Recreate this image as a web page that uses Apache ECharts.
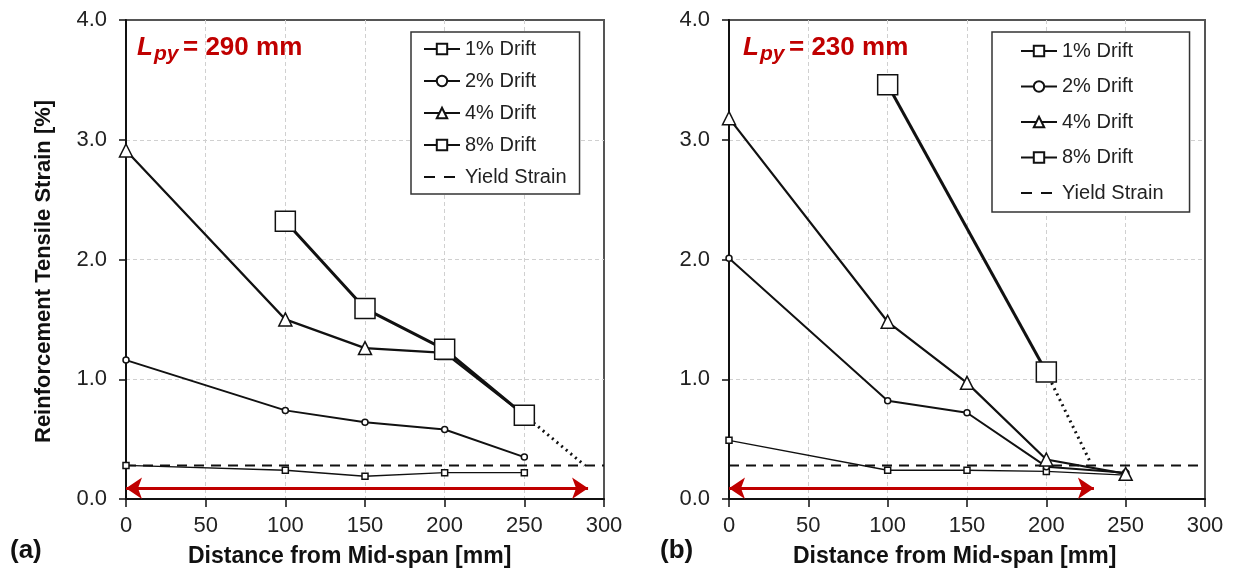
<!DOCTYPE html>
<html>
<head>
<meta charset="utf-8">
<script src="https://cdn.jsdelivr.net/npm/echarts@6/dist/echarts.min.js"></script>
<style>
  html, body { margin: 0; padding: 0; background: #fff; }
  #chart { width: 1234px; height: 574px; }
</style>
</head>
<body>
<div id="chart"></div>
<script>
const FONT = '"Liberation Sans", Arial, sans-serif'

// distances from mid-span [mm]
const distance = [0, 100, 150, 200, 250]

// (a) Lpy = 290 mm, strain [%]
const a1 = [0.28, 0.24, 0.19, 0.22, 0.22]
const a2 = [1.16, 0.74, 0.64, 0.58, 0.35]
const a4 = [2.91, 1.50, 1.26, 1.22, 0.70]
const a8 = [null, 2.32, 1.59, 1.25, 0.70]
const aExtrap = [[250, 0.70], [288, 0.28]]
const aArrow = [[0, 0.09], [290, 0.09]]

// (b) Lpy = 230 mm
const b1 = [0.49, 0.24, 0.24, 0.23, 0.20]
const b2 = [2.01, 0.82, 0.72, 0.27, 0.22]
const b4 = [3.18, 1.48, 0.97, 0.33, 0.21]
const b8 = [null, 3.46, null, 1.06, null]
const bExtrap = [[200, 1.06], [228, 0.30]]
const bArrow = [[0, 0.09], [230, 0.09]]

const yieldStrain = 0.28
const yieldSpan = [0, 300]

const legendNames = ['1% Drift', '2% Drift', '4% Drift', '8% Drift', 'Yield Strain']

function pairs(vals) {
  return distance.map((d, i) => [d, vals[i]]).filter(p => p[1] != null)
}

const driftStyles = {
  '1% Drift': { symbol: 'rect', size: 6, width: 1.3 },
  '2% Drift': { symbol: 'circle', size: 6, width: 2 },
  '4% Drift': { symbol: 'triangle', size: 13, width: 2.2 },
  '8% Drift': { symbol: 'rect', size: 20, width: 3 },
}

function driftSeries(name, vals, idx) {
  const s = driftStyles[name]
  return {
    name,
    type: 'line',
    xAxisIndex: idx, yAxisIndex: idx,
    data: pairs(vals),
    symbol: s.symbol,
    symbolSize: s.size,
    showAllSymbol: true,
    lineStyle: { color: '#111', width: s.width },
    itemStyle: { color: '#fff', borderColor: '#111', borderWidth: 1.5 },
    z: 3,
  }
}

function panelSeries(idx, d1, d2, d4, d8, extrap, arrow) {
  return [
    {
      name: 'Yield Strain',
      type: 'line',
      xAxisIndex: idx, yAxisIndex: idx,
      data: yieldSpan.map(x => [x, yieldStrain]),
      symbol: 'none',
      lineStyle: { color: '#111', width: 2, type: [10, 7] },
      itemStyle: { color: 'rgba(0,0,0,0)', borderWidth: 0 },
      z: 2,
    },
    {
      name: 'extrap' + idx,
      type: 'line',
      xAxisIndex: idx, yAxisIndex: idx,
      data: extrap,
      symbol: 'none',
      lineStyle: { color: '#111', width: 3, type: [2, 4] },
      z: 2,
    },
    {
      name: 'arrow' + idx,
      type: 'line',
      xAxisIndex: idx, yAxisIndex: idx,
      data: [],
      markLine: {
        silent: true,
        symbol: ['arrow', 'arrow'],
        symbolSize: [16, 16],
        label: { show: false },
        lineStyle: { color: '#c00000', width: 3, type: 'solid' },
        data: [[{ coord: arrow[0] }, { coord: arrow[1] }]],
      },
    },
    driftSeries('1% Drift', d1, idx),
    driftSeries('2% Drift', d2, idx),
    driftSeries('4% Drift', d4, idx),
    driftSeries('8% Drift', d8, idx),
  ]
}

const grids = [
  { left: 126, top: 20, width: 478, height: 479 },
  { left: 729, top: 20, width: 476, height: 479 },
]

const gridLine = { show: true, showMinLine: false, showMaxLine: false, lineStyle: { color: '#d0d0d0', type: [4, 3], width: 1 } }

function xAxis(idx) {
  return {
    type: 'value', gridIndex: idx,
    min: 0, max: 300, interval: 50,
    axisLine: { onZero: false, lineStyle: { color: '#111', width: 2 } },
    axisTick: { length: 8, lineStyle: { color: '#111', width: 1.5 } },
    axisLabel: { color: '#222', fontSize: 22, fontFamily: FONT, margin: 16 },
    splitLine: gridLine,
  }
}

function yAxis(idx) {
  return {
    type: 'value', gridIndex: idx,
    min: 0, max: 4, interval: 1,
    axisLine: { show: true, onZero: false, lineStyle: { color: '#111', width: 2 } },
    axisTick: { show: true, length: 7, lineStyle: { color: '#111', width: 1.5 } },
    axisLabel: { color: '#222', fontSize: 22, fontFamily: FONT, margin: 19, formatter: v => v.toFixed(1) },
    splitLine: gridLine,
  }
}

function legend(left, top, gap, pad) {
  return {
    left, top,
    orient: 'vertical',
    data: legendNames.map(n => n === 'Yield Strain'
      ? { name: n, lineStyle: { type: [11, 9] } }
      : n),
    itemWidth: 36, itemHeight: 13, itemGap: gap,
    padding: pad,
    backgroundColor: '#fff',
    borderColor: '#333', borderWidth: 1.5, borderRadius: 0,
    textStyle: { color: '#222', fontSize: 20, fontFamily: FONT, lineHeight: 18 },
    selectedMode: false,
  }
}

function titleTexts(x, val) {
  return [
    { type: 'text', left: x, top: 35, z: 10,
      style: { text: 'L', fill: '#c00000', font: `italic bold 26px ${FONT}` } },
    { type: 'text', left: x + 17, top: 44, z: 10,
      style: { text: 'py', fill: '#c00000', font: `italic bold 21px ${FONT}` } },
    { type: 'text', left: x + 46, top: 35, z: 10,
      style: { text: '= ' + val + ' mm', fill: '#c00000', font: `bold 26px ${FONT}` } },
  ]
}

const chart = echarts.init(document.getElementById('chart'), null, { renderer: 'canvas' })

chart.setOption({
  backgroundColor: '#fff',
  animation: false,
  grid: grids.map(g => ({ ...g, show: true, borderColor: '#555', borderWidth: 2, backgroundColor: 'transparent' })),
  xAxis: [xAxis(0), xAxis(1)],
  yAxis: [yAxis(0), yAxis(1)],
  legend: [
    legend(411, 32, 12, [7, 13, 7, 12]),
    legend(992, 32, 15.5, [9, 26, 9, 28]),
  ],
  series: [
    ...panelSeries(0, a1, a2, a4, a8, aExtrap, aArrow),
    ...panelSeries(1, b1, b2, b4, b8, bExtrap, bArrow),
  ],
  graphic: [
    ...titleTexts(137, 290),
    ...titleTexts(743, 230),
    { type: 'text', left: 10, top: 538,
      style: { text: '(a)', fill: '#111', font: `bold 26px ${FONT}` } },
    { type: 'text', left: 660, top: 538,
      style: { text: '(b)', fill: '#111', font: `bold 26px ${FONT}` } },
    { type: 'text', left: 188, top: 545,
      style: { text: 'Distance from Mid-span [mm]', fill: '#111', font: `bold 23px ${FONT}` } },
    { type: 'text', left: 793, top: 545,
      style: { text: 'Distance from Mid-span [mm]', fill: '#111', font: `bold 23px ${FONT}` } },
    { type: 'text', x: 33, y: 443, rotation: Math.PI / 2,
      style: { text: 'Reinforcement Tensile Strain [%]', fill: '#111', font: `bold 22px ${FONT}` } },
  ],
})
</script>
</body>
</html>
